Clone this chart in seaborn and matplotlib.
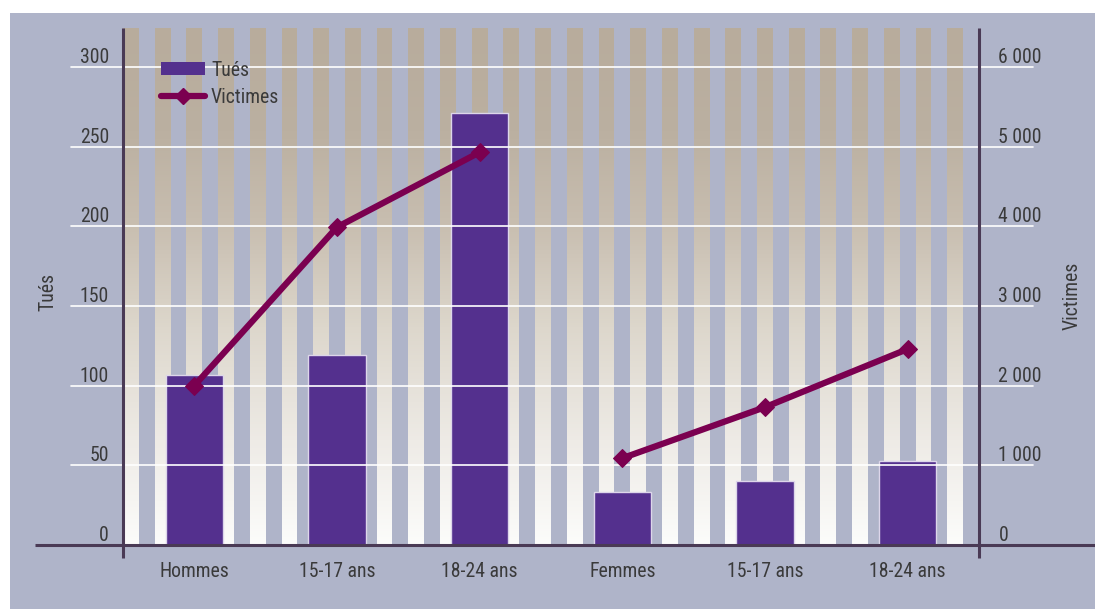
import numpy as np
import pandas as pd
import matplotlib
matplotlib.use("Agg")
import matplotlib.pyplot as plt
from matplotlib.patches import Rectangle, Patch
from matplotlib.lines import Line2D
from matplotlib.colors import LinearSegmentedColormap
import seaborn as sns

# --- data ---------------------------------------------------------------
groups = ["Hommes", "Hommes", "Hommes", "Femmes", "Femmes", "Femmes"]
tick_labels = ["Hommes", "15-17 ans", "18-24 ans", "Femmes", "15-17 ans", "18-24 ans"]
tues = [107, 119, 271, 33, 40, 53]
victimes = [2000, 3990, 4930, 1090, 1730, 2460]
left_ticks = [0, 50, 100, 150, 200, 250, 300]
right_ticks = [0, 1000, 2000, 3000, 4000, 5000, 6000]
right_tick_labels = ["0", "1 000", "2 000", "3 000", "4 000", "5 000", "6 000"]

# --- style --------------------------------------------------------------
sns.set_style("white")
plt.rcParams["font.family"] = ["Roboto Condensed", "DejaVu Sans"]
FS = 14.2
BG = "#afb4c9"
BAR = "#54308e"
LINE = "#7b0050"
AXC = "#4a3a55"
TXT = "#3a3a3a"

W, H = 1095, 609
fig = plt.figure(figsize=(W / 100, H / 100), dpi=100, facecolor="white")
fig.patches.append(Rectangle((10 / W, 0), 1, (H - 13) / H, transform=fig.transFigure,
                             facecolor=BG, edgecolor="none", zorder=-10))

ax = fig.add_axes([123 / W, (H - 545) / H, 856 / W, 517 / H])
ax.set_facecolor(BG)
ax.patch.set_alpha(0)

ytop = 324.5
ax.set_xlim(-0.5, 5.5)
ax.set_ylim(0, ytop)

# background stripes with a tan-to-white vertical gradient
n_stripes = 27
grad = LinearSegmentedColormap.from_list(
    "stripe", [(0.0, "#fcfcfb"), (0.2, "#eeebe6"), (0.42, "#ddd7cc"),
               (0.62, "#c8beb0"), (0.8, "#bbb0a1"), (1.0, "#b8ac9c")])
rows = 256
vals = np.linspace(0, 1, rows)[::-1]
rgba_col = grad(vals)
img = np.zeros((rows, n_stripes * 2, 4))
for k in range(n_stripes):
    img[:, 2 * k, :] = rgba_col
ax.imshow(img, extent=(-0.5, 5.5, 0, ytop), aspect="auto",
          interpolation="nearest", zorder=0.5, origin="upper")
ax.set_xlim(-0.5, 5.5)
ax.set_ylim(0, ytop)

# bars (killed)
df = pd.DataFrame({"pos": range(6), "tues": tues, "victimes": victimes, "groupe": groups})
sns.barplot(data=df, x="pos", y="tues", color=BAR, saturation=1, width=0.4,
            edgecolor="#ddd6ea", linewidth=1, ax=ax, zorder=2)
ax.set_xlim(-0.5, 5.5)
ax.set_ylim(0, ytop)

# white gridlines running past both axes
for v in left_ticks[1:]:
    ax.plot([-0.061, 1.063], [v, v], color="white", lw=1.2, zorder=3,
            transform=ax.get_yaxis_transform(), clip_on=False)

# axis lines
ax.plot([-0.103, 1.14], [0, 0], color=AXC, lw=2.2, transform=ax.transAxes,
        clip_on=False, zorder=6, solid_capstyle="butt")
for x in (0, 1):
    ax.plot([x, x], [-0.026, 1], color=AXC, lw=2.2, transform=ax.transAxes,
            clip_on=False, zorder=6, solid_capstyle="butt")
for s in ax.spines.values():
    s.set_visible(False)

ax.set_xticks(range(6))
ax.set_xticklabels(tick_labels, fontsize=FS, color=TXT)
ax.tick_params(axis="x", length=0, pad=12)
ax.set_xlabel("")
ax.set_yticks(left_ticks)
ax.set_yticklabels([str(t) for t in left_ticks], fontsize=FS, color=TXT)
ax.tick_params(axis="y", length=0, pad=10)
for lab in ax.get_yticklabels():
    lab.set_verticalalignment("bottom")
ax.set_ylabel("Tués", fontsize=FS, color=TXT, va="center")
ax.yaxis.set_label_coords(-0.0876, 0.489)

# right axis: victims
ax2 = ax.twinx()
ax2.set_ylim(0, ytop * 20)
for s in ax2.spines.values():
    s.set_visible(False)
sns.lineplot(data=df, x="pos", y="victimes", hue="groupe", palette=[LINE, LINE],
             marker="D", markersize=9, markeredgecolor=LINE, linewidth=4.5,
             legend=False, ax=ax2, zorder=5)
ax2.set_xlim(-0.5, 5.5)
ax2.set_ylim(0, ytop * 20)
ax2.set_yticks(right_ticks)
ax2.set_yticklabels(right_tick_labels, fontsize=FS, color=TXT)
ax2.tick_params(axis="y", length=0, pad=14)
for lab in ax2.get_yticklabels():
    lab.set_verticalalignment("bottom")
ax2.set_ylabel("Victimes", fontsize=FS, color=TXT, va="center", rotation=90)
ax2.yaxis.set_label_coords(1.1086, 0.482)
ax2.set_xlabel("")

handles = [Patch(facecolor=BAR, edgecolor="none"),
           Line2D([0], [0], color=LINE, lw=4.5, marker="D", markersize=8,
                  solid_capstyle="round")]
leg = ax2.legend(handles, ["Tués", "Victimes"], loc="upper left",
                 bbox_to_anchor=(0.044, 0.937), frameon=False, fontsize=FS,
                 handlelength=2.25, handleheight=0.6, handletextpad=0.3,
                 labelspacing=0.42, borderaxespad=0, borderpad=0)
for t in leg.get_texts():
    t.set_color(TXT)

fig.savefig("out.png", dpi=100, facecolor=fig.get_facecolor())
